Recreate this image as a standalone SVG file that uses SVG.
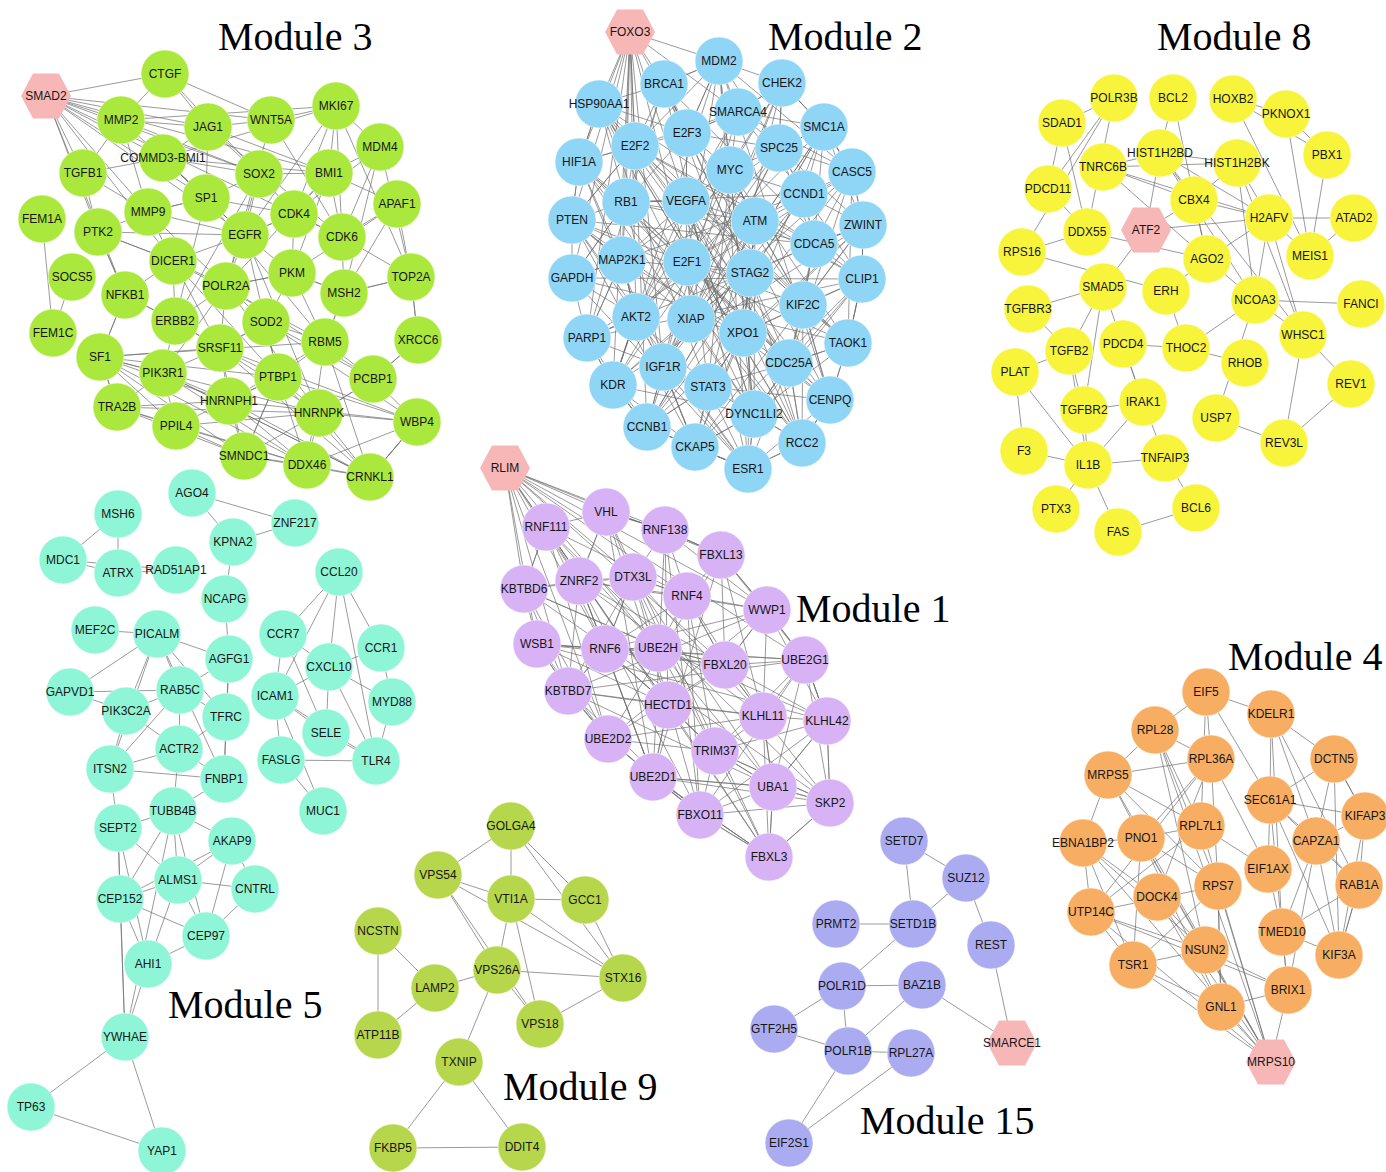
<svg xmlns="http://www.w3.org/2000/svg" xmlns:xlink="http://www.w3.org/1999/xlink" width="1386" height="1172" viewBox="0 0 1386 1172">
<style>
circle{stroke:#fff;stroke-opacity:.5;stroke-width:1}
text{font-family:"Liberation Sans",Arial,sans-serif;font-size:12px;text-anchor:middle;dominant-baseline:central;fill:#161616}
.c3 circle{fill:#abe83d}
.c2 circle{fill:#8fd5f6}
.c8 circle{fill:#f8f43c}
.c1 circle{fill:#d7b3f6}
.c5 circle{fill:#8ef6d7}
.c9 circle{fill:#b6d74b}
.c15 circle{fill:#ababf1}
.c4 circle{fill:#f7ae62}
.hx use{fill:#f8b7b7}
.t{font-family:"Liberation Serif","Times New Roman",serif;font-size:40px;text-anchor:start;dominant-baseline:auto;fill:#000}
#edges path{fill:none;stroke:#6e6e6e;stroke-width:.7;stroke-linejoin:bevel}
</style>
<defs>
<polygon id="hex" points="-25,0 -13,-22.5 13,-22.5 25,0 13,22.5 -13,22.5"/>
</defs>
<rect width="1386" height="1172" fill="#fff"/>

<g id="edges">
<!-- Module 3 -->
<path d="M46 96 165 74M46 96 121 120M46 96 208 127M46 96 271 120M46 96 259 174M46 96 206 198M46 96 163 158M46 96 83 173M46 96 98 232M46 96 148 212M46 96 245 235M46 96 173 261M46 96 125 295M46 96 329 173M46 96 294 214"/>
<path d="M42 219 53 333M72 277 53 333M125 295 100 357M125 295 175 321M125 295 98 232M411 277 418 340M418 340 373 379M380 147 411 277M336 106 411 277M397 204 411 277M417 422 370 477"/>
<path d="M165 74 121 120 208 127 271 120 336 106 329 173 259 174 163 158 83 173 148 212 206 198 245 235 294 214 342 237 344 293 292 273 226 286 173 261 98 232 125 295 175 321 220 348 266 322 325 342 373 379 417 422 370 477 307 465 244 456 176 426 117 407 100 357 163 373 229 401 278 377 319 413 373 379"/>
<path d="M336 106 380 147 329 173 294 214 259 174 208 127 163 158 206 198 148 212 121 120 83 173 98 232 245 235 226 286 266 322 292 273 344 293 411 277 418 340 373 379 319 413 370 477 417 422 319 413 307 465 176 426 100 357 220 348 229 401 244 456 319 413"/>
<path d="M336 106 342 237 411 277 344 293 325 342 278 377 220 348 163 373 117 407 229 401 307 465 417 422 278 377 100 357 229 401 370 477 163 373 176 426 319 413 220 348 244 456 278 377 176 426"/>
<path d="M380 147 342 237 397 204 329 173 342 237 294 214 245 235 173 261 175 321 226 286 220 348 266 322 278 377 244 456 370 477 325 342 307 465"/>
<path d="M271 120 165 74 208 127 206 198 259 174 245 235 206 198 294 214 292 273 245 235 148 212 173 261 125 295 100 357 117 407 244 456 100 357 307 465 278 377 370 477 220 348 417 422"/>
<path d="M121 120 336 106 163 158 329 173 208 127 342 237 271 120 226 286 259 174 175 321 206 198 325 342 173 261 278 377 245 235 319 413 226 286 373 379 266 322 417 422 229 401 325 342 100 357 319 413 117 407 307 465 163 373 370 477"/>
<path d="M165 74 259 174 121 120 206 198 163 158 245 235 336 106 294 214 380 147 344 293 397 204 292 273 329 173 226 286 148 212 98 232 173 261 220 348 175 321 163 373 226 286 292 273 325 342 344 293"/>
<!-- Module 2 -->
<path d="M630 32 599 104M630 32 579 162M630 32 572 220M630 32 572 278M630 32 587 338M630 32 613 385M630 32 664 84M630 32 635 146M630 32 626 202M630 32 622 260M630 32 636 317M630 32 719 61M630 32 687 133M630 32 686 201M630 32 687 262M630 32 663 367M630 32 647 427M630 32 738 112"/>
<path d="M599 104 664 84 719 61 782 83 824 127 852 172 863 225 862 279 848 343 830 400 802 443 748 469 695 447 647 427 613 385 587 338 572 278 572 220 579 162 599 104"/>
<path d="M579 162 635 146 687 133 738 112 779 148 804 194 814 244 803 305 789 363 754 414 695 447 663 367 636 317 622 260 626 202 686 201 730 170 755 221 750 273 743 333 708 387 647 427 613 385 636 317 687 262 691 319 743 333 803 305 862 279 814 244 863 225 804 194 852 172 824 127 779 148 730 170 687 133 664 84"/>
<path d="M719 61 748 469 664 84 802 443 599 104 754 414 579 162 830 400 572 220 848 343 572 278 862 279 587 338 863 225 613 385 852 172 647 427 824 127 695 447 782 83 663 367 738 112 636 317 779 148 622 260 804 194 626 202 814 244 635 146 803 305 687 133 789 363 686 201 708 387 730 170 754 414 755 221 691 319 750 273 687 262"/>
<path d="M664 84 626 202 663 367 748 469 789 363 814 244 824 127 738 112 686 201 636 317 587 338 647 427 708 387 830 400 803 305 755 221 687 262 613 385 695 447 743 333 862 279 804 194 730 170 782 83 779 148 691 319 754 414 802 443 750 273 622 260 572 220 635 146 719 61 852 172 848 343 789 363"/>
<path d="M599 104 635 146 686 201 755 221 803 305 830 400 748 469 708 387 743 333 750 273 814 244 852 172 779 148 719 61 687 133 626 202 572 278 622 260 636 317 663 367 647 427 695 447 754 414 789 363 848 343 862 279 863 225 824 127 782 83 738 112 730 170 687 262 691 319 613 385"/>
<path d="M572 220 687 262 789 363 802 443 830 400 743 333 754 414 708 387 663 367 691 319 750 273 804 194 738 112 687 133 686 201 622 260 587 338 636 317 613 385 647 427 748 469 754 414 848 343 803 305 863 225 814 244 779 148 824 127 804 194 755 221 730 170 686 201 626 202 579 162 635 146 664 84 687 133 719 61 738 112 782 83"/>
<path d="M579 162 622 260 587 338 663 367 695 447 748 469 802 443 789 363 862 279 755 221 626 202 599 104 687 133 779 148 863 225 743 333 622 260 572 278 636 317 708 387 789 363 852 172 738 112 635 146 572 220 626 202 687 262 803 305 802 443 754 414 613 385 587 338"/>
<path d="M572 278 748 469 572 220 695 447 579 162 802 443 599 104 848 343 635 146 862 279 664 84 830 400 719 61 754 414 686 201 848 343 730 170 647 427 804 194 663 367 824 127 636 317 782 83 691 319 572 220 814 244 599 104 789 363"/>
<path d="M572 220 636 317 748 469 750 273 664 84 587 338 852 172 687 262 719 61 613 385 779 148 663 367 824 127 647 427 863 225 695 447 862 279 754 414 686 201 802 443 626 202 830 400 635 146 789 363 579 162 743 333 599 104 708 387"/>
<path d="M572 278 626 202 635 146 599 104 579 162 572 220 622 260 636 317 613 385 647 427 663 367 687 262 686 201 687 133 664 84 719 61 730 170 755 221 750 273 743 333 708 387 695 447 748 469 754 414 789 363 803 305 814 244 804 194 779 148 782 83 824 127 852 172 863 225 862 279 848 343 830 400 802 443"/>
<!-- Module 1 -->
<path d="M505 468 546 527M505 468 606 512M505 468 524 589M505 468 537 644M505 468 579 581M505 468 633 577M505 468 665 530M505 468 721 555M505 468 687 596M505 468 605 649M505 468 658 648M505 468 568 691M505 468 668 705M505 468 725 665M505 468 767 610M505 468 608 739M505 468 805 660"/>
<path d="M546 527 606 512 665 530 721 555 767 610 805 660 827 721 830 803 769 857 700 815 653 777 608 739 568 691 537 644 524 589 546 527"/>
<path d="M606 512 633 577 687 596 721 555 725 665 763 716 827 721 773 787 715 751 668 705 605 649 579 581 546 527 524 589 579 581 633 577 658 648 687 596 767 610 725 665 805 660 763 716 773 787 830 803 715 751 700 815 769 857 773 787 653 777 668 705 725 665 658 648 605 649 568 691 608 739 653 777 700 815"/>
<path d="M606 512 769 857 546 527 830 803 524 589 827 721 537 644 805 660 568 691 767 610 608 739 721 555 653 777 665 530 700 815 687 596 605 649 725 665 579 581 763 716 633 577 773 787 658 648 715 751 668 705 769 857"/>
<path d="M665 530 668 705 537 644 725 665 608 739 763 716 568 691 773 787 653 777 830 803 715 751 827 721 700 815 805 660 605 649 767 610 579 581 687 596 546 527 658 648 524 589 633 577 568 691 668 705 653 777 769 857 715 751 763 716"/>
<path d="M721 555 763 716 687 596 715 751 633 577 700 815 579 581 653 777 606 512 668 705 546 527 608 739 524 589 568 691 537 644 605 649 658 648 725 665 767 610 827 721 805 660 830 803 773 787 769 857"/>
<path d="M665 530 767 610 763 716 769 857 653 777 605 649 633 577 665 530 687 596 725 665 827 721 773 787 805 660 721 555 665 530 606 512 579 581 605 649 568 691 700 815 830 803 763 716 668 705 605 649 537 644 608 739 715 751 805 660"/>
<path d="M546 527 605 649 653 777 769 857 830 803 827 721 805 660 767 610 721 555 665 530 606 512 579 581 568 691 608 739 700 815 773 787 763 716 725 665 687 596 633 577 605 649 668 705 715 751 773 787"/>
<!-- Module 8 -->
<path d="M1233 99 1286 114 1327 155 1310 256 1233 99 1327 155M1286 114 1310 256M1354 218 1310 256M1354 218 1269 218"/>
<path d="M1160 153 1237 163 1269 218 1194 200 1160 153 1269 218M1237 163 1194 200M1160 153 1255 300 1237 163 1303 335 1269 218 1255 300M1160 153 1303 335M1160 153 1146 230M1173 98 1160 153M1173 98 1207 259"/>
<path d="M1103 167 1160 153M1103 167 1194 200M1103 167 1237 163M1103 167 1269 218M1103 167 1207 259M1114 98 1062 123 1048 189 1087 232 1114 98 1022 252M1114 98 1048 189M1062 123 1087 232M1022 252 1087 232M1022 252 1166 291M1087 232 1207 259"/>
<path d="M1146 230 1103 287M1146 230 1194 200M1146 230 1269 218M1207 259 1194 200M1207 259 1255 300M1207 259 1269 218M1207 259 1166 291M1255 300 1303 335M1303 335 1351 384M1351 384 1284 443M1303 335 1284 443M1361 304 1255 300M1310 256 1269 218"/>
<path d="M1123 344 1186 348 1166 291M1186 348 1245 363M1186 348 1255 300M1123 344 1143 402M1216 418 1284 443M1216 418 1255 300"/>
<path d="M1028 309 1069 351 1084 410 1103 287 1028 309M1069 351 1103 287M1084 410 1088 465 1143 402 1084 410M1088 465 1165 458 1143 402M1088 465 1024 451 1015 372 1088 465M1088 465 1056 509M1088 465 1118 532M1165 458 1196 508M1069 351 1088 465M1015 372 1069 351M1143 402 1103 287M1118 532 1196 508"/>
<!-- Module 4 -->
<path d="M1271 1062 1108 775M1271 1062 1141 838M1271 1062 1157 897M1271 1062 1091 912M1271 1062 1133 965M1271 1062 1205 950M1271 1062 1221 1007M1271 1062 1288 990M1271 1062 1218 886M1271 1062 1201 826M1271 1062 1155 730M1271 1062 1083 843"/>
<path d="M1206 692 1155 730 1108 775 1083 843 1091 912 1133 965 1221 1007 1288 990 1282 932 1339 955 1359 885 1365 816 1334 759 1271 714 1206 692 1211 759 1155 730 1201 826 1141 838 1108 775 1211 759 1218 886 1141 838 1083 843 1157 897 1205 950 1133 965 1141 838 1221 1007 1218 886 1091 912"/>
<path d="M1206 692 1201 826 1268 869 1211 759 1141 838 1205 950 1091 912 1201 826 1108 775 1218 886 1155 730 1205 950 1083 843 1133 965 1218 886 1221 1007 1157 897 1211 759 1091 912 1288 990 1205 950"/>
<path d="M1271 714 1270 800 1316 841 1334 759 1270 800 1282 932 1316 841 1365 816 1270 800 1359 885 1282 932 1271 714 1316 841 1339 955 1270 800 1268 869 1282 932 1288 990 1316 841 1359 885 1339 955 1365 816 1334 759 1339 955M1271 714 1359 885M1270 800 1206 692"/>
<!-- Module 5 -->
<path d="M192 493 295 523 233 542 225 599M192 493 233 542M118 514 118 573 63 560 118 514M118 573 176 570M63 560 176 570"/>
<path d="M157 634 180 690 229 659 157 634 70 692 180 690 126 711 70 692M157 634 226 717 180 690 179 749 226 717 224 779 179 749 110 769 126 711 179 749M157 634 126 711M157 634 110 769M157 634 224 779M229 659 226 717M229 659 224 779M180 690 110 769M110 769 224 779M95 630 157 634M225 599 229 659"/>
<path d="M339 572 283 634 329 667 381 648 339 572 329 667 275 696 283 634M339 572 376 761M381 648 392 702 329 667 326 733 275 696 281 760 376 761 326 733M329 667 376 761 392 702M275 696 376 761M275 696 323 811M281 760 323 811M339 572 275 696M283 634 326 733"/>
<path d="M173 811 118 828 178 880 232 841 173 811 178 880 255 889 232 841 120 899 173 811 206 936 232 841M118 828 120 899 178 880 206 936 255 889M120 899 206 936 148 964 120 899M178 880 148 964 118 828M125 1037 148 964M125 1037 118 828M125 1037 120 899M125 1037 173 811M125 1037 31 1107 162 1151 125 1037M179 749 173 811M224 779 173 811M110 769 118 828"/>
<!-- Module 9 -->
<path d="M511 826 438 875 511 899 511 826 585 900 623 978 511 826M511 899 585 900M511 899 497 970 438 875 623 978M511 899 623 978M511 899 540 1024M497 970 623 978 540 1024 497 970 435 988 378 931 378 1035 435 988M497 970 459 1062 393 1148 522 1147 459 1062M438 875 540 1024"/>
<!-- Module 15 -->
<path d="M904 841 913 924 966 878 904 841M966 878 991 945 1012 1043 922 985 848 1051 842 986 922 985M836 924 913 924 842 986 774 1029 848 1051 911 1053 789 1143 848 1051"/>
</g>

<!-- titles -->
<text class="t" x="218" y="50">Module 3</text>
<text class="t" x="768" y="50">Module 2</text>
<text class="t" x="1157" y="50">Module 8</text>
<text class="t" x="796" y="622">Module 1</text>
<text class="t" x="1228" y="670">Module 4</text>
<text class="t" x="168" y="1018">Module 5</text>
<text class="t" x="503" y="1100">Module 9</text>
<text class="t" x="860" y="1134">Module 15</text>

<!-- Module 3 nodes -->
<g id="module3">
<g id="SMAD2" class="hx" transform="translate(46 96)"><use href="#hex"/><text>SMAD2</text></g>
<g id="CTGF" class="c3" transform="translate(165 74)"><circle r="24"/><text>CTGF</text></g>
<g id="MMP2" class="c3" transform="translate(121 120)"><circle r="24"/><text>MMP2</text></g>
<g id="JAG1" class="c3" transform="translate(208 127)"><circle r="24"/><text>JAG1</text></g>
<g id="WNT5A" class="c3" transform="translate(271 120)"><circle r="24"/><text>WNT5A</text></g>
<g id="MKI67" class="c3" transform="translate(336 106)"><circle r="24"/><text>MKI67</text></g>
<g id="MDM4" class="c3" transform="translate(380 147)"><circle r="24"/><text>MDM4</text></g>
<g id="COMMD3-BMI1" class="c3" transform="translate(163 158)"><circle r="24"/><text>COMMD3-BMI1</text></g>
<g id="TGFB1" class="c3" transform="translate(83 173)"><circle r="24"/><text>TGFB1</text></g>
<g id="SOX2" class="c3" transform="translate(259 174)"><circle r="24"/><text>SOX2</text></g>
<g id="BMI1" class="c3" transform="translate(329 173)"><circle r="24"/><text>BMI1</text></g>
<g id="APAF1" class="c3" transform="translate(397 204)"><circle r="24"/><text>APAF1</text></g>
<g id="FEM1A" class="c3" transform="translate(42 219)"><circle r="24"/><text>FEM1A</text></g>
<g id="PTK2" class="c3" transform="translate(98 232)"><circle r="24"/><text>PTK2</text></g>
<g id="MMP9" class="c3" transform="translate(148 212)"><circle r="24"/><text>MMP9</text></g>
<g id="SP1" class="c3" transform="translate(206 198)"><circle r="24"/><text>SP1</text></g>
<g id="EGFR" class="c3" transform="translate(245 235)"><circle r="24"/><text>EGFR</text></g>
<g id="CDK4" class="c3" transform="translate(294 214)"><circle r="24"/><text>CDK4</text></g>
<g id="CDK6" class="c3" transform="translate(342 237)"><circle r="24"/><text>CDK6</text></g>
<g id="DICER1" class="c3" transform="translate(173 261)"><circle r="24"/><text>DICER1</text></g>
<g id="SOCS5" class="c3" transform="translate(72 277)"><circle r="24"/><text>SOCS5</text></g>
<g id="NFKB1" class="c3" transform="translate(125 295)"><circle r="24"/><text>NFKB1</text></g>
<g id="POLR2A" class="c3" transform="translate(226 286)"><circle r="24"/><text>POLR2A</text></g>
<g id="PKM" class="c3" transform="translate(292 273)"><circle r="24"/><text>PKM</text></g>
<g id="MSH2" class="c3" transform="translate(344 293)"><circle r="24"/><text>MSH2</text></g>
<g id="TOP2A" class="c3" transform="translate(411 277)"><circle r="24"/><text>TOP2A</text></g>
<g id="ERBB2" class="c3" transform="translate(175 321)"><circle r="24"/><text>ERBB2</text></g>
<g id="SOD2" class="c3" transform="translate(266 322)"><circle r="24"/><text>SOD2</text></g>
<g id="FEM1C" class="c3" transform="translate(53 333)"><circle r="24"/><text>FEM1C</text></g>
<g id="SF1" class="c3" transform="translate(100 357)"><circle r="24"/><text>SF1</text></g>
<g id="SRSF11" class="c3" transform="translate(220 348)"><circle r="24"/><text>SRSF11</text></g>
<g id="RBM5" class="c3" transform="translate(325 342)"><circle r="24"/><text>RBM5</text></g>
<g id="XRCC6" class="c3" transform="translate(418 340)"><circle r="24"/><text>XRCC6</text></g>
<g id="PIK3R1" class="c3" transform="translate(163 373)"><circle r="24"/><text>PIK3R1</text></g>
<g id="PTBP1" class="c3" transform="translate(278 377)"><circle r="24"/><text>PTBP1</text></g>
<g id="PCBP1" class="c3" transform="translate(373 379)"><circle r="24"/><text>PCBP1</text></g>
<g id="TRA2B" class="c3" transform="translate(117 407)"><circle r="24"/><text>TRA2B</text></g>
<g id="HNRNPH1" class="c3" transform="translate(229 401)"><circle r="24"/><text>HNRNPH1</text></g>
<g id="HNRNPK" class="c3" transform="translate(319 413)"><circle r="24"/><text>HNRNPK</text></g>
<g id="WBP4" class="c3" transform="translate(417 422)"><circle r="24"/><text>WBP4</text></g>
<g id="PPIL4" class="c3" transform="translate(176 426)"><circle r="24"/><text>PPIL4</text></g>
<g id="SMNDC1" class="c3" transform="translate(244 456)"><circle r="24"/><text>SMNDC1</text></g>
<g id="DDX46" class="c3" transform="translate(307 465)"><circle r="24"/><text>DDX46</text></g>
<g id="CRNKL1" class="c3" transform="translate(370 477)"><circle r="24"/><text>CRNKL1</text></g>
</g>

<!-- Module 2 nodes -->
<g id="module2">
<g id="FOXO3" class="hx" transform="translate(630 32)"><use href="#hex"/><text>FOXO3</text></g>
<g id="MDM2" class="c2" transform="translate(719 61)"><circle r="24"/><text>MDM2</text></g>
<g id="CHEK2" class="c2" transform="translate(782 83)"><circle r="24"/><text>CHEK2</text></g>
<g id="BRCA1" class="c2" transform="translate(664 84)"><circle r="24"/><text>BRCA1</text></g>
<g id="HSP90AA1" class="c2" transform="translate(599 104)"><circle r="24"/><text>HSP90AA1</text></g>
<g id="SMARCA4" class="c2" transform="translate(738 112)"><circle r="24"/><text>SMARCA4</text></g>
<g id="SMC1A" class="c2" transform="translate(824 127)"><circle r="24"/><text>SMC1A</text></g>
<g id="E2F3" class="c2" transform="translate(687 133)"><circle r="24"/><text>E2F3</text></g>
<g id="E2F2" class="c2" transform="translate(635 146)"><circle r="24"/><text>E2F2</text></g>
<g id="SPC25" class="c2" transform="translate(779 148)"><circle r="24"/><text>SPC25</text></g>
<g id="HIF1A" class="c2" transform="translate(579 162)"><circle r="24"/><text>HIF1A</text></g>
<g id="MYC" class="c2" transform="translate(730 170)"><circle r="24"/><text>MYC</text></g>
<g id="CASC5" class="c2" transform="translate(852 172)"><circle r="24"/><text>CASC5</text></g>
<g id="CCND1" class="c2" transform="translate(804 194)"><circle r="24"/><text>CCND1</text></g>
<g id="RB1" class="c2" transform="translate(626 202)"><circle r="24"/><text>RB1</text></g>
<g id="VEGFA" class="c2" transform="translate(686 201)"><circle r="24"/><text>VEGFA</text></g>
<g id="PTEN" class="c2" transform="translate(572 220)"><circle r="24"/><text>PTEN</text></g>
<g id="ATM" class="c2" transform="translate(755 221)"><circle r="24"/><text>ATM</text></g>
<g id="ZWINT" class="c2" transform="translate(863 225)"><circle r="24"/><text>ZWINT</text></g>
<g id="CDCA5" class="c2" transform="translate(814 244)"><circle r="24"/><text>CDCA5</text></g>
<g id="MAP2K1" class="c2" transform="translate(622 260)"><circle r="24"/><text>MAP2K1</text></g>
<g id="E2F1" class="c2" transform="translate(687 262)"><circle r="24"/><text>E2F1</text></g>
<g id="STAG2" class="c2" transform="translate(750 273)"><circle r="24"/><text>STAG2</text></g>
<g id="GAPDH" class="c2" transform="translate(572 278)"><circle r="24"/><text>GAPDH</text></g>
<g id="CLIP1" class="c2" transform="translate(862 279)"><circle r="24"/><text>CLIP1</text></g>
<g id="KIF2C" class="c2" transform="translate(803 305)"><circle r="24"/><text>KIF2C</text></g>
<g id="AKT2" class="c2" transform="translate(636 317)"><circle r="24"/><text>AKT2</text></g>
<g id="XIAP" class="c2" transform="translate(691 319)"><circle r="24"/><text>XIAP</text></g>
<g id="XPO1" class="c2" transform="translate(743 333)"><circle r="24"/><text>XPO1</text></g>
<g id="PARP1" class="c2" transform="translate(587 338)"><circle r="24"/><text>PARP1</text></g>
<g id="TAOK1" class="c2" transform="translate(848 343)"><circle r="24"/><text>TAOK1</text></g>
<g id="CDC25A" class="c2" transform="translate(789 363)"><circle r="24"/><text>CDC25A</text></g>
<g id="IGF1R" class="c2" transform="translate(663 367)"><circle r="24"/><text>IGF1R</text></g>
<g id="KDR" class="c2" transform="translate(613 385)"><circle r="24"/><text>KDR</text></g>
<g id="STAT3" class="c2" transform="translate(708 387)"><circle r="24"/><text>STAT3</text></g>
<g id="CENPQ" class="c2" transform="translate(830 400)"><circle r="24"/><text>CENPQ</text></g>
<g id="DYNC1LI2" class="c2" transform="translate(754 414)"><circle r="24"/><text>DYNC1LI2</text></g>
<g id="CCNB1" class="c2" transform="translate(647 427)"><circle r="24"/><text>CCNB1</text></g>
<g id="RCC2" class="c2" transform="translate(802 443)"><circle r="24"/><text>RCC2</text></g>
<g id="CKAP5" class="c2" transform="translate(695 447)"><circle r="24"/><text>CKAP5</text></g>
<g id="ESR1" class="c2" transform="translate(748 469)"><circle r="24"/><text>ESR1</text></g>
</g>

<!-- Module 8 nodes -->
<g id="module8">
<g id="POLR3B" class="c8" transform="translate(1114 98)"><circle r="24"/><text>POLR3B</text></g>
<g id="BCL2" class="c8" transform="translate(1173 98)"><circle r="24"/><text>BCL2</text></g>
<g id="HOXB2" class="c8" transform="translate(1233 99)"><circle r="24"/><text>HOXB2</text></g>
<g id="PKNOX1" class="c8" transform="translate(1286 114)"><circle r="24"/><text>PKNOX1</text></g>
<g id="SDAD1" class="c8" transform="translate(1062 123)"><circle r="24"/><text>SDAD1</text></g>
<g id="PBX1" class="c8" transform="translate(1327 155)"><circle r="24"/><text>PBX1</text></g>
<g id="TNRC6B" class="c8" transform="translate(1103 167)"><circle r="24"/><text>TNRC6B</text></g>
<g id="HIST1H2BD" class="c8" transform="translate(1160 153)"><circle r="24"/><text>HIST1H2BD</text></g>
<g id="HIST1H2BK" class="c8" transform="translate(1237 163)"><circle r="24"/><text>HIST1H2BK</text></g>
<g id="PDCD11" class="c8" transform="translate(1048 189)"><circle r="24"/><text>PDCD11</text></g>
<g id="CBX4" class="c8" transform="translate(1194 200)"><circle r="24"/><text>CBX4</text></g>
<g id="H2AFV" class="c8" transform="translate(1269 218)"><circle r="24"/><text>H2AFV</text></g>
<g id="ATAD2" class="c8" transform="translate(1354 218)"><circle r="24"/><text>ATAD2</text></g>
<g id="DDX55" class="c8" transform="translate(1087 232)"><circle r="24"/><text>DDX55</text></g>
<g id="ATF2" class="hx" transform="translate(1146 230)"><use href="#hex"/><text>ATF2</text></g>
<g id="RPS16" class="c8" transform="translate(1022 252)"><circle r="24"/><text>RPS16</text></g>
<g id="AGO2" class="c8" transform="translate(1207 259)"><circle r="24"/><text>AGO2</text></g>
<g id="MEIS1" class="c8" transform="translate(1310 256)"><circle r="24"/><text>MEIS1</text></g>
<g id="SMAD5" class="c8" transform="translate(1103 287)"><circle r="24"/><text>SMAD5</text></g>
<g id="ERH" class="c8" transform="translate(1166 291)"><circle r="24"/><text>ERH</text></g>
<g id="NCOA3" class="c8" transform="translate(1255 300)"><circle r="24"/><text>NCOA3</text></g>
<g id="FANCI" class="c8" transform="translate(1361 304)"><circle r="24"/><text>FANCI</text></g>
<g id="TGFBR3" class="c8" transform="translate(1028 309)"><circle r="24"/><text>TGFBR3</text></g>
<g id="WHSC1" class="c8" transform="translate(1303 335)"><circle r="24"/><text>WHSC1</text></g>
<g id="PDCD4" class="c8" transform="translate(1123 344)"><circle r="24"/><text>PDCD4</text></g>
<g id="TGFB2" class="c8" transform="translate(1069 351)"><circle r="24"/><text>TGFB2</text></g>
<g id="THOC2" class="c8" transform="translate(1186 348)"><circle r="24"/><text>THOC2</text></g>
<g id="RHOB" class="c8" transform="translate(1245 363)"><circle r="24"/><text>RHOB</text></g>
<g id="PLAT" class="c8" transform="translate(1015 372)"><circle r="24"/><text>PLAT</text></g>
<g id="REV1" class="c8" transform="translate(1351 384)"><circle r="24"/><text>REV1</text></g>
<g id="IRAK1" class="c8" transform="translate(1143 402)"><circle r="24"/><text>IRAK1</text></g>
<g id="TGFBR2" class="c8" transform="translate(1084 410)"><circle r="24"/><text>TGFBR2</text></g>
<g id="USP7" class="c8" transform="translate(1216 418)"><circle r="24"/><text>USP7</text></g>
<g id="REV3L" class="c8" transform="translate(1284 443)"><circle r="24"/><text>REV3L</text></g>
<g id="F3" class="c8" transform="translate(1024 451)"><circle r="24"/><text>F3</text></g>
<g id="TNFAIP3" class="c8" transform="translate(1165 458)"><circle r="24"/><text>TNFAIP3</text></g>
<g id="IL1B" class="c8" transform="translate(1088 465)"><circle r="24"/><text>IL1B</text></g>
<g id="BCL6" class="c8" transform="translate(1196 508)"><circle r="24"/><text>BCL6</text></g>
<g id="PTX3" class="c8" transform="translate(1056 509)"><circle r="24"/><text>PTX3</text></g>
<g id="FAS" class="c8" transform="translate(1118 532)"><circle r="24"/><text>FAS</text></g>
</g>

<!-- Module 1 nodes -->
<g id="module1">
<g id="RLIM" class="hx" transform="translate(505 468)"><use href="#hex"/><text>RLIM</text></g>
<g id="VHL" class="c1" transform="translate(606 512)"><circle r="24"/><text>VHL</text></g>
<g id="RNF111" class="c1" transform="translate(546 527)"><circle r="24"/><text>RNF111</text></g>
<g id="RNF138" class="c1" transform="translate(665 530)"><circle r="24"/><text>RNF138</text></g>
<g id="FBXL13" class="c1" transform="translate(721 555)"><circle r="24"/><text>FBXL13</text></g>
<g id="ZNRF2" class="c1" transform="translate(579 581)"><circle r="24"/><text>ZNRF2</text></g>
<g id="DTX3L" class="c1" transform="translate(633 577)"><circle r="24"/><text>DTX3L</text></g>
<g id="KBTBD6" class="c1" transform="translate(524 589)"><circle r="24"/><text>KBTBD6</text></g>
<g id="RNF4" class="c1" transform="translate(687 596)"><circle r="24"/><text>RNF4</text></g>
<g id="WWP1" class="c1" transform="translate(767 610)"><circle r="24"/><text>WWP1</text></g>
<g id="WSB1" class="c1" transform="translate(537 644)"><circle r="24"/><text>WSB1</text></g>
<g id="RNF6" class="c1" transform="translate(605 649)"><circle r="24"/><text>RNF6</text></g>
<g id="UBE2H" class="c1" transform="translate(658 648)"><circle r="24"/><text>UBE2H</text></g>
<g id="FBXL20" class="c1" transform="translate(725 665)"><circle r="24"/><text>FBXL20</text></g>
<g id="UBE2G1" class="c1" transform="translate(805 660)"><circle r="24"/><text>UBE2G1</text></g>
<g id="KBTBD7" class="c1" transform="translate(568 691)"><circle r="24"/><text>KBTBD7</text></g>
<g id="HECTD1" class="c1" transform="translate(668 705)"><circle r="24"/><text>HECTD1</text></g>
<g id="KLHL11" class="c1" transform="translate(763 716)"><circle r="24"/><text>KLHL11</text></g>
<g id="KLHL42" class="c1" transform="translate(827 721)"><circle r="24"/><text>KLHL42</text></g>
<g id="UBE2D2" class="c1" transform="translate(608 739)"><circle r="24"/><text>UBE2D2</text></g>
<g id="TRIM37" class="c1" transform="translate(715 751)"><circle r="24"/><text>TRIM37</text></g>
<g id="UBE2D1" class="c1" transform="translate(653 777)"><circle r="24"/><text>UBE2D1</text></g>
<g id="UBA1" class="c1" transform="translate(773 787)"><circle r="24"/><text>UBA1</text></g>
<g id="SKP2" class="c1" transform="translate(830 803)"><circle r="24"/><text>SKP2</text></g>
<g id="FBXO11" class="c1" transform="translate(700 815)"><circle r="24"/><text>FBXO11</text></g>
<g id="FBXL3" class="c1" transform="translate(769 857)"><circle r="24"/><text>FBXL3</text></g>
</g>

<!-- Module 5 nodes -->
<g id="module5">
<g id="AGO4" class="c5" transform="translate(192 493)"><circle r="24"/><text>AGO4</text></g>
<g id="MSH6" class="c5" transform="translate(118 514)"><circle r="24"/><text>MSH6</text></g>
<g id="ZNF217" class="c5" transform="translate(295 523)"><circle r="24"/><text>ZNF217</text></g>
<g id="KPNA2" class="c5" transform="translate(233 542)"><circle r="24"/><text>KPNA2</text></g>
<g id="MDC1" class="c5" transform="translate(63 560)"><circle r="24"/><text>MDC1</text></g>
<g id="ATRX" class="c5" transform="translate(118 573)"><circle r="24"/><text>ATRX</text></g>
<g id="RAD51AP1" class="c5" transform="translate(176 570)"><circle r="24"/><text>RAD51AP1</text></g>
<g id="CCL20" class="c5" transform="translate(339 572)"><circle r="24"/><text>CCL20</text></g>
<g id="NCAPG" class="c5" transform="translate(225 599)"><circle r="24"/><text>NCAPG</text></g>
<g id="MEF2C" class="c5" transform="translate(95 630)"><circle r="24"/><text>MEF2C</text></g>
<g id="PICALM" class="c5" transform="translate(157 634)"><circle r="24"/><text>PICALM</text></g>
<g id="CCR7" class="c5" transform="translate(283 634)"><circle r="24"/><text>CCR7</text></g>
<g id="CCR1" class="c5" transform="translate(381 648)"><circle r="24"/><text>CCR1</text></g>
<g id="AGFG1" class="c5" transform="translate(229 659)"><circle r="24"/><text>AGFG1</text></g>
<g id="CXCL10" class="c5" transform="translate(329 667)"><circle r="24"/><text>CXCL10</text></g>
<g id="GAPVD1" class="c5" transform="translate(70 692)"><circle r="24"/><text>GAPVD1</text></g>
<g id="RAB5C" class="c5" transform="translate(180 690)"><circle r="24"/><text>RAB5C</text></g>
<g id="ICAM1" class="c5" transform="translate(275 696)"><circle r="24"/><text>ICAM1</text></g>
<g id="MYD88" class="c5" transform="translate(392 702)"><circle r="24"/><text>MYD88</text></g>
<g id="PIK3C2A" class="c5" transform="translate(126 711)"><circle r="24"/><text>PIK3C2A</text></g>
<g id="TFRC" class="c5" transform="translate(226 717)"><circle r="24"/><text>TFRC</text></g>
<g id="SELE" class="c5" transform="translate(326 733)"><circle r="24"/><text>SELE</text></g>
<g id="ACTR2" class="c5" transform="translate(179 749)"><circle r="24"/><text>ACTR2</text></g>
<g id="FASLG" class="c5" transform="translate(281 760)"><circle r="24"/><text>FASLG</text></g>
<g id="TLR4" class="c5" transform="translate(376 761)"><circle r="24"/><text>TLR4</text></g>
<g id="ITSN2" class="c5" transform="translate(110 769)"><circle r="24"/><text>ITSN2</text></g>
<g id="FNBP1" class="c5" transform="translate(224 779)"><circle r="24"/><text>FNBP1</text></g>
<g id="TUBB4B" class="c5" transform="translate(173 811)"><circle r="24"/><text>TUBB4B</text></g>
<g id="MUC1" class="c5" transform="translate(323 811)"><circle r="24"/><text>MUC1</text></g>
<g id="SEPT2" class="c5" transform="translate(118 828)"><circle r="24"/><text>SEPT2</text></g>
<g id="AKAP9" class="c5" transform="translate(232 841)"><circle r="24"/><text>AKAP9</text></g>
<g id="ALMS1" class="c5" transform="translate(178 880)"><circle r="24"/><text>ALMS1</text></g>
<g id="CNTRL" class="c5" transform="translate(255 889)"><circle r="24"/><text>CNTRL</text></g>
<g id="CEP152" class="c5" transform="translate(120 899)"><circle r="24"/><text>CEP152</text></g>
<g id="CEP97" class="c5" transform="translate(206 936)"><circle r="24"/><text>CEP97</text></g>
<g id="AHI1" class="c5" transform="translate(148 964)"><circle r="24"/><text>AHI1</text></g>
<g id="YWHAE" class="c5" transform="translate(125 1037)"><circle r="24"/><text>YWHAE</text></g>
<g id="TP63" class="c5" transform="translate(31 1107)"><circle r="24"/><text>TP63</text></g>
<g id="YAP1" class="c5" transform="translate(162 1151)"><circle r="24"/><text>YAP1</text></g>
</g>

<!-- Module 9 nodes -->
<g id="module9">
<g id="GOLGA4" class="c9" transform="translate(511 826)"><circle r="24"/><text>GOLGA4</text></g>
<g id="VPS54" class="c9" transform="translate(438 875)"><circle r="24"/><text>VPS54</text></g>
<g id="VTI1A" class="c9" transform="translate(511 899)"><circle r="24"/><text>VTI1A</text></g>
<g id="GCC1" class="c9" transform="translate(585 900)"><circle r="24"/><text>GCC1</text></g>
<g id="NCSTN" class="c9" transform="translate(378 931)"><circle r="24"/><text>NCSTN</text></g>
<g id="VPS26A" class="c9" transform="translate(497 970)"><circle r="24"/><text>VPS26A</text></g>
<g id="STX16" class="c9" transform="translate(623 978)"><circle r="24"/><text>STX16</text></g>
<g id="LAMP2" class="c9" transform="translate(435 988)"><circle r="24"/><text>LAMP2</text></g>
<g id="VPS18" class="c9" transform="translate(540 1024)"><circle r="24"/><text>VPS18</text></g>
<g id="ATP11B" class="c9" transform="translate(378 1035)"><circle r="24"/><text>ATP11B</text></g>
<g id="TXNIP" class="c9" transform="translate(459 1062)"><circle r="24"/><text>TXNIP</text></g>
<g id="FKBP5" class="c9" transform="translate(393 1148)"><circle r="24"/><text>FKBP5</text></g>
<g id="DDIT4" class="c9" transform="translate(522 1147)"><circle r="24"/><text>DDIT4</text></g>
</g>

<!-- Module 15 nodes -->
<g id="module15">
<g id="SETD7" class="c15" transform="translate(904 841)"><circle r="24"/><text>SETD7</text></g>
<g id="SUZ12" class="c15" transform="translate(966 878)"><circle r="24"/><text>SUZ12</text></g>
<g id="PRMT2" class="c15" transform="translate(836 924)"><circle r="24"/><text>PRMT2</text></g>
<g id="SETD1B" class="c15" transform="translate(913 924)"><circle r="24"/><text>SETD1B</text></g>
<g id="REST" class="c15" transform="translate(991 945)"><circle r="24"/><text>REST</text></g>
<g id="POLR1D" class="c15" transform="translate(842 986)"><circle r="24"/><text>POLR1D</text></g>
<g id="BAZ1B" class="c15" transform="translate(922 985)"><circle r="24"/><text>BAZ1B</text></g>
<g id="GTF2H5" class="c15" transform="translate(774 1029)"><circle r="24"/><text>GTF2H5</text></g>
<g id="SMARCE1" class="hx" transform="translate(1012 1043)"><use href="#hex"/><text>SMARCE1</text></g>
<g id="POLR1B" class="c15" transform="translate(848 1051)"><circle r="24"/><text>POLR1B</text></g>
<g id="RPL27A" class="c15" transform="translate(911 1053)"><circle r="24"/><text>RPL27A</text></g>
<g id="EIF2S1" class="c15" transform="translate(789 1143)"><circle r="24"/><text>EIF2S1</text></g>
</g>

<!-- Module 4 nodes -->
<g id="module4">
<g id="EIF5" class="c4" transform="translate(1206 692)"><circle r="24"/><text>EIF5</text></g>
<g id="RPL28" class="c4" transform="translate(1155 730)"><circle r="24"/><text>RPL28</text></g>
<g id="KDELR1" class="c4" transform="translate(1271 714)"><circle r="24"/><text>KDELR1</text></g>
<g id="RPL36A" class="c4" transform="translate(1211 759)"><circle r="24"/><text>RPL36A</text></g>
<g id="DCTN5" class="c4" transform="translate(1334 759)"><circle r="24"/><text>DCTN5</text></g>
<g id="MRPS5" class="c4" transform="translate(1108 775)"><circle r="24"/><text>MRPS5</text></g>
<g id="SEC61A1" class="c4" transform="translate(1270 800)"><circle r="24"/><text>SEC61A1</text></g>
<g id="KIFAP3" class="c4" transform="translate(1365 816)"><circle r="24"/><text>KIFAP3</text></g>
<g id="RPL7L1" class="c4" transform="translate(1201 826)"><circle r="24"/><text>RPL7L1</text></g>
<g id="EBNA1BP2" class="c4" transform="translate(1083 843)"><circle r="24"/><text>EBNA1BP2</text></g>
<g id="PNO1" class="c4" transform="translate(1141 838)"><circle r="24"/><text>PNO1</text></g>
<g id="CAPZA1" class="c4" transform="translate(1316 841)"><circle r="24"/><text>CAPZA1</text></g>
<g id="EIF1AX" class="c4" transform="translate(1268 869)"><circle r="24"/><text>EIF1AX</text></g>
<g id="RAB1A" class="c4" transform="translate(1359 885)"><circle r="24"/><text>RAB1A</text></g>
<g id="RPS7" class="c4" transform="translate(1218 886)"><circle r="24"/><text>RPS7</text></g>
<g id="DOCK4" class="c4" transform="translate(1157 897)"><circle r="24"/><text>DOCK4</text></g>
<g id="UTP14C" class="c4" transform="translate(1091 912)"><circle r="24"/><text>UTP14C</text></g>
<g id="TMED10" class="c4" transform="translate(1282 932)"><circle r="24"/><text>TMED10</text></g>
<g id="NSUN2" class="c4" transform="translate(1205 950)"><circle r="24"/><text>NSUN2</text></g>
<g id="KIF3A" class="c4" transform="translate(1339 955)"><circle r="24"/><text>KIF3A</text></g>
<g id="TSR1" class="c4" transform="translate(1133 965)"><circle r="24"/><text>TSR1</text></g>
<g id="BRIX1" class="c4" transform="translate(1288 990)"><circle r="24"/><text>BRIX1</text></g>
<g id="GNL1" class="c4" transform="translate(1221 1007)"><circle r="24"/><text>GNL1</text></g>
<g id="MRPS10" class="hx" transform="translate(1271 1062)"><use href="#hex"/><text>MRPS10</text></g>
</g>
</svg>
